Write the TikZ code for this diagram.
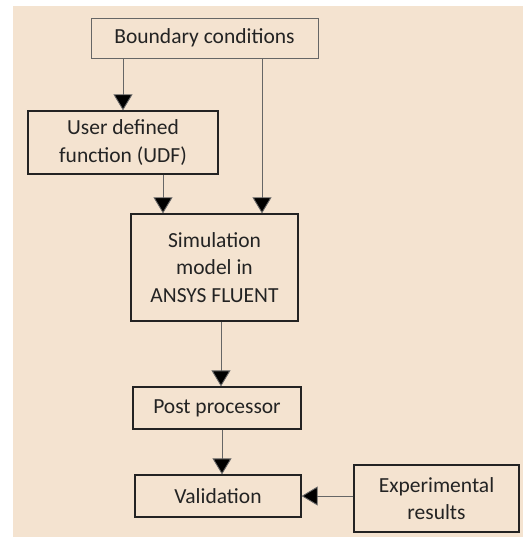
\documentclass[tikz,border=0pt]{standalone}
\usepackage{fontspec}
\setmainfont{Carlito}
\usepackage{tikz}
\usetikzlibrary{arrows.meta,positioning,calc}
\usepackage{xcolor}
\definecolor{paper}{RGB}{244,227,208}
\definecolor{ink}{RGB}{35,35,35}

\begin{document}
\begin{tikzpicture}[x=1pt, y=-1pt,
    box/.style={draw=ink, line width=1.3pt, align=center, text=ink, inner sep=0pt,
        font=\fontsize{21.5}{27.5}\selectfont},
    arr/.style={draw=black!60, line width=0.9pt, -{Triangle[length=16pt, width=19pt, fill=black]}}]
    % Page and background
    \useasboundingbox (0,0) rectangle (523,537);
    \fill[paper] (13,6) rectangle (523,537);

    % Boxes
    \node[box, draw=black!60, line width=0.8pt, minimum width=227pt, minimum height=40pt] (bc) at (204.5,38) {Boundary conditions};
    \node[box, minimum width=190pt, minimum height=63pt] (udf) at (123,142.5) {User defined\\function (UDF)};
    \node[box, minimum width=167pt, minimum height=107pt] (sim) at (214.5,267.5) {Simulation\\model in\\ANSYS FLUENT};
    \node[box, minimum width=168pt, minimum height=42pt] (post) at (217,408) {Post processor};
    \node[box, minimum width=166pt, minimum height=42pt] (val) at (218,496) {Validation};
    \node[box, minimum width=165pt, minimum height=67pt] (exp) at (436.5,498.5) {Experimental\\results};

    % Arrows into the model
    \draw[arr] (bc.south -| udf.north) -- (udf.north);
    \draw[arr] ([xshift=47.5pt]sim.north |- bc.south) -- ([xshift=47.5pt]sim.north);
    \draw[arr] ([xshift=40pt]udf.south) -- ([xshift=40pt]udf.south |- sim.north);

    % Post processing and validation
    \draw[arr] ([xshift=6.5pt]sim.south) -- ([xshift=6.5pt]sim.south |- post.north);
    \draw[arr] ([xshift=5pt]post.south) -- ([xshift=5pt]post.south |- val.north);
    \draw[arr] (exp.west |- val.east) -- (val.east);
\end{tikzpicture}
\end{document}
